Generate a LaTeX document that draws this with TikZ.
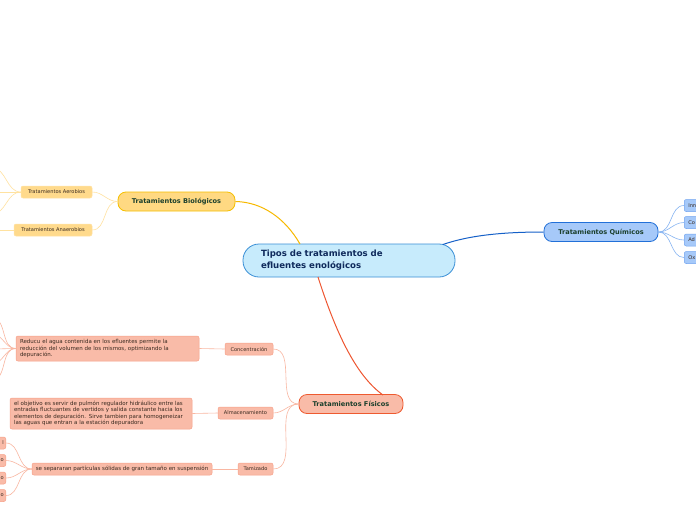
\documentclass[tikz,border=0pt]{standalone}
\usepackage{fontspec}
\setmainfont{DejaVu Sans}
\definecolor{cenfill}{HTML}{C7EBFC}
\definecolor{cendraw}{HTML}{3A8FD6}
\definecolor{centext}{HTML}{0F2A5C}
\definecolor{biofill}{HTML}{FFD982}
\definecolor{biodraw}{HTML}{F5BF00}
\definecolor{biolink}{HTML}{F7B900}
\definecolor{biosub}{HTML}{FFDA8C}
\definecolor{biosubdraw}{HTML}{FFE3A6}
\definecolor{biosublink}{HTML}{FFE2A0}
\definecolor{quifill}{HTML}{A6C9F9}
\definecolor{quidraw}{HTML}{2270D8}
\definecolor{quilink}{HTML}{1560C8}
\definecolor{quisubdraw}{HTML}{6FA3F0}
\definecolor{quisublink}{HTML}{86B4F2}
\definecolor{fisfill}{HTML}{F9BBA8}
\definecolor{fisdraw}{HTML}{EE5A30}
\definecolor{fislink}{HTML}{EE5530}
\definecolor{fissubdraw}{HTML}{F7A088}
\definecolor{fissublink}{HTML}{F9B7A2}
\definecolor{lvtext}{HTML}{1B3F2C}
\definecolor{smtext}{HTML}{3A2A20}
\begin{document}
\begin{tikzpicture}[x=1pt,y=-1pt,
  central/.style={draw=cendraw,fill=cenfill,line width=0.8pt,rounded corners=16pt,
    minimum width=212pt,minimum height=33pt,text width=176pt,inner xsep=18pt,align=left,
    font=\fontsize{8.6}{12}\selectfont\bfseries,text=centext},
  lvone/.style={line width=0.8pt,rounded corners=8pt,minimum height=19pt,inner sep=0pt,
    font=\fontsize{6.6}{8}\selectfont\bfseries,text=lvtext},
  small/.style={line width=0.5pt,rounded corners=2pt,minimum height=12pt,inner sep=0pt,
    font=\fontsize{5.1}{6}\selectfont,text=smtext},
  para/.style={small,align=left,inner xsep=4pt,inner ysep=2pt,
    font=\fontsize{5.5}{6.5}\selectfont},
  biolk/.style={draw=biosublink,line width=0.6pt},
  quilk/.style={draw=quisublink,line width=0.6pt},
  fislk/.style={draw=fissublink,line width=0.6pt},
]
\clip (0,0) rectangle (696,520);
\fill[white] (0,0) rectangle (696,520);

% central
\node[central] (cen) at (349,260.5) {Tipos de tratamientos de\\efluentes enológicos};

% level one
\node[lvone,draw=biodraw,fill=biofill,minimum width=117pt] (bio) at (176.5,201.5) {Tratamientos Biológicos};
\node[lvone,draw=quidraw,fill=quifill,minimum width=114pt] (qui) at (601,232) {Tratamientos Químicos};
\node[lvone,draw=fisdraw,fill=fisfill,minimum width=104pt] (fis) at (351,404) {Tratamientos Físicos};

% main connectors
\coordinate (cenbio) at (300,244);
\coordinate (cenqui) at (443,244.5);
\coordinate (cenfis) at (318,277);
\draw[biolink,line width=1pt] (cenbio) .. controls (285,218) and (262,202) .. (bio.east);
\draw[quilink,line width=1pt] (cenqui) .. controls (470,235) and (505,232) .. (qui.west);
\draw[fislink,line width=1pt] (cenfis) .. controls (335,330) and (355,375) .. (383,395);

% biological children
\node[small,draw=biosubdraw,fill=biosub,minimum width=71pt] (aer) at (56.5,192) {Tratamientos Aerobios};
\node[small,draw=biosubdraw,fill=biosub,minimum width=78pt] (ana) at (53,230) {Tratamientos Anaerobios};
\draw[biolk] (bio.west) to[out=180,in=0] (aer.east);
\draw[biolk] (bio.west) to[out=180,in=0] (ana.east);
\coordinate (aer1) at (-8,168);
\coordinate (aer2) at (-8,192);
\coordinate (aer3) at (-8,214);
\coordinate (ana1) at (-8,230);
\draw[biolk] (aer.west) to[out=180,in=0] (aer1);
\draw[biolk] (aer.west) -- (aer2);
\draw[biolk] (aer.west) to[out=180,in=0] (aer3);
\draw[biolk] (ana.west) -- (ana1);

% chemical children
\node[small,draw=quisubdraw,fill=quifill,minimum width=40pt,text width=32pt,align=left,anchor=west] (q1) at (684,205.5) {Inn};
\node[small,draw=quisubdraw,fill=quifill,minimum width=40pt,text width=32pt,align=left,anchor=west] (q2) at (684,222.5) {Co};
\node[small,draw=quisubdraw,fill=quifill,minimum width=40pt,text width=32pt,align=left,anchor=west] (q3) at (684,240) {Ad};
\node[small,draw=quisubdraw,fill=quifill,minimum width=40pt,text width=32pt,align=left,anchor=west] (q4) at (684,257.5) {Ox};
\foreach \q in {q1,q2,q3,q4}{\draw[quilk] (qui.east) to[out=0,in=180] (\q.west);}

% physical children
\node[small,draw=fissubdraw,fill=fisfill,minimum width=48pt] (conc) at (249,349) {Concentración};
\node[small,draw=fissubdraw,fill=fisfill,minimum width=55pt] (alm) at (245.5,413) {Almacenamiento};
\node[small,draw=fissubdraw,fill=fisfill,minimum width=35pt] (tam) at (255.5,469) {Tamizado};
\draw[fislk] (fis.west) to[out=180,in=0] (conc.east);
\draw[fislk] (fis.west) to[out=180,in=0] (alm.east);
\draw[fislk] (fis.west) to[out=180,in=0] (tam.east);

\node[para,draw=fissubdraw,fill=fisfill,minimum width=183pt,minimum height=25pt,text width=175pt] (concd) at (107.5,348.5)
  {Reducu el agua contenida en los efluentes permite la\\reducción del volumen de los mismos, optimizando la\\depuración.};
\node[para,draw=fissubdraw,fill=fisfill,minimum width=182pt,minimum height=31pt,text width=174pt] (almd) at (101,413.5)
  {el objetivo es servir de pulmón regulador hidráulico entre las\\entradas fluctuantes de vertidos y salida constante hacia los\\elementos de depuración. Sirve tambien para homogeneizar\\las aguas que entran a la estación depuradora};
\node[small,draw=fissubdraw,fill=fisfill,minimum width=180pt,font=\fontsize{5.5}{6.5}\selectfont] (tamd) at (122,469) {se separaran partículas sólidas de gran tamaño en suspensión};
\draw[fislk] (conc.west) -- (concd.east);
\draw[fislk] (alm.west) -- (almd.east);
\draw[fislk] (tam.west) -- (tamd.east);

% children of concentracion description (off picture)
\coordinate (c1) at (-8,318);
\coordinate (c2) at (-8,334);
\coordinate (c3) at (-8,349);
\coordinate (c4) at (-8,364);
\coordinate (c5) at (-8,380);
\foreach \c in {c1,c2,c3,c4,c5}{\draw[fislk] (concd.west) to[out=180,in=0] (\c);}

% children of tamizado description
\node[small,draw=fissubdraw,fill=fisfill,minimum width=30pt,text width=26pt,align=right,anchor=east] (t1) at (6,443) {l};
\node[small,draw=fissubdraw,fill=fisfill,minimum width=30pt,text width=26pt,align=right,anchor=east] (t2) at (6,460.5) {o};
\node[small,draw=fissubdraw,fill=fisfill,minimum width=30pt,text width=26pt,align=right,anchor=east] (t3) at (6,478) {o};
\node[small,draw=fissubdraw,fill=fisfill,minimum width=30pt,text width=26pt,align=right,anchor=east] (t4) at (6,495.5) {o};
\foreach \t in {t1,t2,t3,t4}{\draw[fislk] (tamd.west) to[out=180,in=0] (\t.east);}
\end{tikzpicture}
\end{document}
